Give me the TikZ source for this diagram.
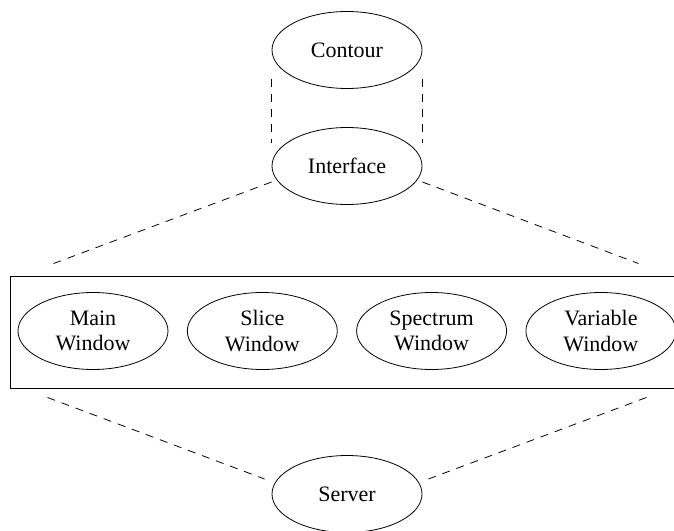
\documentclass[tikz,border=0pt]{standalone}
\usepackage{fontspec}
\setmainfont{Liberation Serif}
\usetikzlibrary{positioning, shapes.geometric}

\begin{document}
\begin{tikzpicture}[
  x=0.75pt, y=-0.75pt,
  proc/.style={draw, ellipse, align=center, inner sep=0pt, minimum width=112.5pt, minimum height=57.75pt, line width=0.6pt, font=\fontsize{16.5}{19}\selectfont},
  panel/.style={draw, rectangle, line width=0.7pt, minimum width=500.25pt, minimum height=84pt},
  link/.style={line width=0.6pt, dash pattern=on 6pt off 5.25pt}
]
\useasboundingbox (0,0) rectangle (674,531);

\node[proc] (contour) at (347,50) {Contour};
\node[proc] (interface) at (347,166) {Interface};

\node[panel] (windows) at (343.5,332) {};
\node[proc] (main) at (93,331) {Main\\Window};
\node[proc, right=13.875pt of main] (slice) {Slice\\Window};
\node[proc, right=13.875pt of slice] (spectrum) {Spectrum\\Window};
\node[proc, right=13.875pt of spectrum] (variable) {Variable\\Window};

\node[proc] (server) at (347,494) {Server};

% contour -- interface
\draw[link] ([yshift=-21.75pt]contour.west) -- ([yshift=17.25pt]interface.west);
\draw[link] ([yshift=-21.75pt]contour.east) -- ([yshift=17.25pt]interface.east);
% interface -- windows
\draw[link] ([yshift=-12pt]interface.west) -- ([shift={(33pt,9pt)}]windows.north west);
\draw[link] ([yshift=-12pt]interface.east) -- ([shift={(-29.25pt,9pt)}]windows.north east);
% windows -- server
\draw[link] ([shift={(28.5pt,-6.75pt)}]windows.south west) -- ([shift={(-5.25pt,11.25pt)}]server.west);
\draw[link] ([shift={(-23.25pt,-6.75pt)}]windows.south east) -- ([shift={(4.5pt,11.25pt)}]server.east);
\end{tikzpicture}
\end{document}
